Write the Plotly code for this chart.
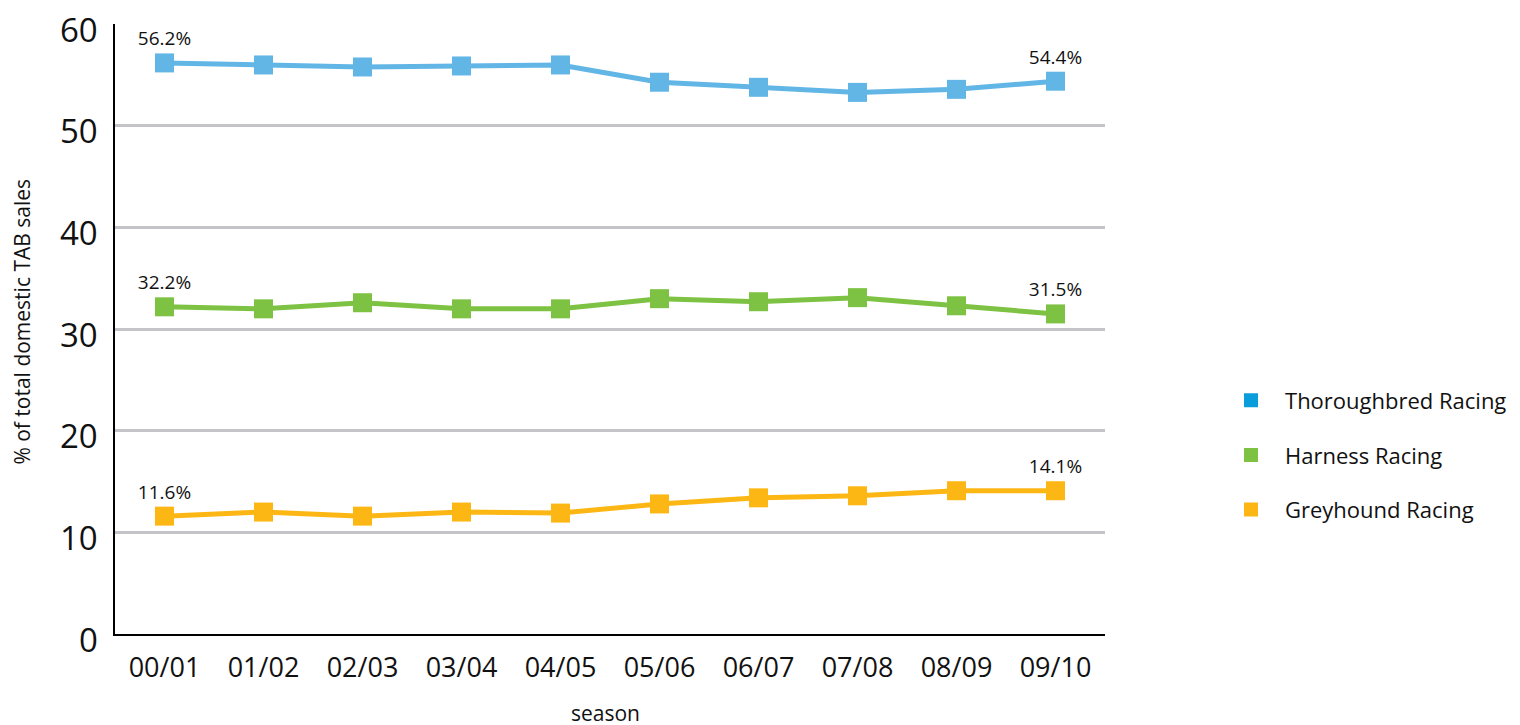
import plotly.graph_objects as go

seasons = ["00/01", "01/02", "02/03", "03/04", "04/05", "05/06", "06/07", "07/08", "08/09", "09/10"]
thoroughbred = [56.2, 56.0, 55.8, 55.9, 56.0, 54.3, 53.8, 53.3, 53.6, 54.4]
harness = [32.2, 32.0, 32.6, 32.0, 32.0, 33.0, 32.7, 33.1, 32.3, 31.5]
greyhound = [11.6, 12.0, 11.6, 12.0, 11.9, 12.8, 13.4, 13.6, 14.1, 14.1]
y_ticks = [0, 10, 20, 30, 40, 50, 60]

names = ["Thoroughbred Racing", "Harness Racing", "Greyhound Racing"]
line_colors = ["#62b6e6", "#7dc242", "#fdb714"]
legend_colors = ["#0a9ddc", "#7dc242", "#fdb714"]
series = [thoroughbred, harness, greyhound]

FONT = "Open Sans"
TXT = "#111111"

fig = go.Figure()

for vals, col in zip(series, line_colors):
    labels = [f"{v:.1f}%" if i in (0, len(vals) - 1) else "" for i, v in enumerate(vals)]
    fig.add_trace(go.Scatter(
        x=seasons, y=vals, mode="lines+markers+text",
        line=dict(color=col, width=5),
        marker=dict(symbol="square", size=19, color=col),
        text=labels, textposition="top center",
        textfont=dict(family=FONT, size=19, color=TXT),
        showlegend=False, hoverinfo="skip",
    ))

for i, (name, col) in enumerate(zip(names, legend_colors)):
    fig.add_trace(go.Scatter(
        x=[None], y=[None], mode="markers", name=name,
        marker=dict(symbol="square", size=14, color=col),
        legendgroup=f"g{i}",
    ))

# y tick labels as annotations tied to the y scale (sit slightly below gridlines as in the reference)
tick_annotations = [
    dict(text=str(v), xref="paper", yref="y", x=-0.0155, y=v, yshift=-5,
         xanchor="right", yanchor="middle", showarrow=False,
         font=dict(family=FONT, size=33, color=TXT))
    for v in y_ticks
]

fig.update_layout(
    width=1520, height=725,
    paper_bgcolor="white", plot_bgcolor="white",
    margin=dict(l=107, r=423, t=16, b=99),
    font=dict(family=FONT, color=TXT),
    showlegend=True,
    legend=dict(
        xref="container", yref="container",
        x=0.7954, y=0.3834, xanchor="left", yanchor="middle",
        font=dict(family=FONT, size=22, color=TXT),
        tracegroupgap=23, itemwidth=58,
    ),
    xaxis=dict(
        type="category", range=[-0.5, 9.5], automargin=False,
        showgrid=False, showline=True, linecolor="black", linewidth=2,
        ticks="", tickfont=dict(family=FONT, size=27, color=TXT),
        ticklabelstandoff=9,
    ),
    yaxis=dict(
        range=[0, 60.03], tickmode="array", tickvals=y_ticks,
        showticklabels=False, automargin=False,
        showgrid=True, gridcolor="#c4c4c8", gridwidth=2.5,
        showline=True, linecolor="black", linewidth=2,
        zeroline=False, ticks="",
    ),
    annotations=tick_annotations + [
        dict(text="% of total domestic TAB sales", xref="paper", yref="paper",
             x=-0.094, y=0.512, textangle=-90, showarrow=False,
             xanchor="center", yanchor="middle",
             font=dict(family=FONT, size=21, color=TXT)),
        dict(text="season", xref="paper", yref="paper",
             x=0.495, y=-0.1287, showarrow=False,
             xanchor="center", yanchor="middle",
             font=dict(family=FONT, size=21, color=TXT)),
    ],
)

fig.write_html("out.html")
